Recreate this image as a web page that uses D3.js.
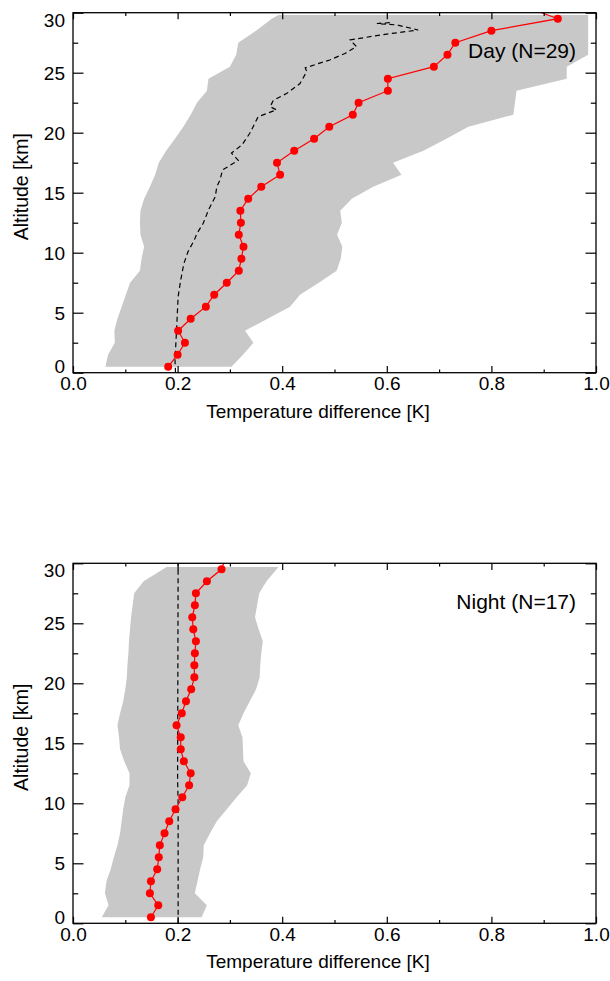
<!DOCTYPE html>
<html>
<head>
<meta charset="utf-8">
<script src="https://cdn.jsdelivr.net/npm/d3@7"></script>
<style>
body { margin: 0; background: #fff; }
svg { display: block; font-family: "Liberation Sans", Arial, Helvetica, sans-serif; }
</style>
</head>
<body>
<div id="graph"></div>
<script>
const width = 610;
const height = 981;
const marginLeft = 73;
const marginRight = 14;

// altitude levels of the profile points [km]
const levels = [0.5, 1.5, 2.5, 3.5, 4.5, 5.5, 6.5, 7.5, 8.5, 9.5, 10.5, 11.5, 12.5, 13.5, 14.5,
                15.5, 16.5, 17.5, 18.5, 19.5, 20.5, 21.5, 22.5, 23.5, 24.5, 25.5, 26.5, 27.5, 28.5, 29.5, 30.5];

// mean temperature difference [K]
const dayMean = [0.182, 0.200, 0.214, 0.201, 0.225, 0.254, 0.270, 0.294, 0.317, 0.322, 0.326, 0.317, 0.321, 0.320, 0.335,
                 0.360, 0.396, 0.390, 0.423, 0.461, 0.490, 0.535, 0.546, 0.602, 0.602, 0.690, 0.716, 0.731, 0.800, 0.927, 0.865];
const nightMean = [0.149, 0.163, 0.147, 0.149, 0.161, 0.164, 0.166, 0.175, 0.184, 0.196, 0.209, 0.222, 0.225, 0.212, 0.206,
                   0.206, 0.198, 0.208, 0.216, 0.226, 0.232, 0.232, 0.233, 0.235, 0.230, 0.228, 0.233, 0.235, 0.256, 0.284, 0.292];

// spread (grey band)
const dayBandAlt = [0.5, 1.5, 2.5, 3.5, 4.5, 5.5, 6.5, 7.5, 8.5, 9.5, 10.5, 11.5, 12.5, 13.5, 14.5,
                    15.5, 16.5, 17.5, 18.5, 19.5, 20.5, 21.5, 22.5, 23.5, 24.5, 25.5, 26.5, 27.5, 28.5, 29.5, 29.8];
const dayBandLow = [0.062, 0.067, 0.080, 0.079, 0.085, 0.093, 0.101, 0.109, 0.128, 0.131, 0.136, 0.129, 0.128, 0.129, 0.136,
                    0.147, 0.157, 0.164, 0.178, 0.195, 0.211, 0.225, 0.237, 0.256, 0.259, 0.300, 0.312, 0.316, 0.350, 0.380, 0.393];
const dayBandHigh = [0.303, 0.325, 0.345, 0.329, 0.372, 0.415, 0.434, 0.470, 0.504, 0.512, 0.515, 0.505, 0.514, 0.511, 0.533,
                     0.574, 0.628, 0.612, 0.670, 0.714, 0.756, 0.842, 0.845, 0.848, 0.944, 0.944, 0.985, 0.985, 0.985, 0.985, 0.985];

const nightBandAlt = [0.5, 1.5, 2.5, 3.5, 4.5, 5.5, 6.5, 7.5, 8.5, 9.5, 10.5, 11.5, 12.5, 13.5, 14.5,
                      15.5, 16.5, 17.5, 18.5, 19.5, 20.5, 21.5, 22.5, 23.5, 24.5, 25.5, 26.5, 27.5, 28.5, 29.7];
const nightBandLow = [0.055, 0.068, 0.061, 0.064, 0.072, 0.078, 0.085, 0.090, 0.093, 0.096, 0.100, 0.108, 0.108, 0.098, 0.090,
                      0.088, 0.085, 0.090, 0.096, 0.100, 0.103, 0.104, 0.106, 0.107, 0.109, 0.111, 0.114, 0.117, 0.135, 0.179];
const nightBandHigh = [0.246, 0.256, 0.233, 0.238, 0.243, 0.249, 0.250, 0.262, 0.275, 0.294, 0.313, 0.333, 0.340, 0.326, 0.325,
                       0.324, 0.316, 0.326, 0.338, 0.350, 0.357, 0.358, 0.360, 0.363, 0.355, 0.348, 0.352, 0.356, 0.370, 0.393];

// reference profile (dashed)
const dayRefAlt = [0, 1.06, 3.56, 6.33, 7.73, 9.1, 10.1, 11.06, 11.6, 12.45, 13.56, 14.67, 15.5, 16.06, 16.9, 17.7, 18.3,
                   18.98, 19.95, 21.33, 21.9, 22.17, 22.7, 23.28, 24.1, 25.1, 25.4, 25.9, 26.06, 26.6, 27.17, 27.73,
                   28.14, 28.56, 28.98, 29.1, 29.17];
const dayRefVal = [0.196, 0.195, 0.198, 0.201, 0.206, 0.212, 0.220, 0.232, 0.237, 0.249, 0.259, 0.272, 0.275, 0.281, 0.286, 0.316, 0.303,
                   0.323, 0.338, 0.354, 0.389, 0.377, 0.383, 0.409, 0.434, 0.447, 0.444, 0.479, 0.491, 0.520, 0.542, 0.530,
                   0.587, 0.660, 0.619, 0.581, 0.606];
const nightRefAlt = [0, 10, 12, 30];
const nightRefVal = [0.201, 0.201, 0.200, 0.201];

const xTicks = [0, 0.2, 0.4, 0.6, 0.8, 1.0];
const xMinorTicks = [0.1, 0.3, 0.5, 0.7, 0.9];
const yTicks = [0, 5, 10, 15, 20, 25, 30];
const yMinorTicks = [2.5, 7.5, 12.5, 17.5, 22.5, 27.5];

const panels = [
  {label: "Day (N=29)", top: 12.7, bottom: 372.7, mean: dayMean,
   bandAlt: dayBandAlt, bandLow: dayBandLow, bandHigh: dayBandHigh, refAlt: dayRefAlt, refVal: dayRefVal},
  {label: "Night (N=17)", top: 563.3, bottom: 923.3, mean: nightMean,
   bandAlt: nightBandAlt, bandLow: nightBandLow, bandHigh: nightBandHigh, refAlt: nightRefAlt, refVal: nightRefVal}
];

const xScale = d3.scaleLinear()
            .domain([0, 1])
            .range([marginLeft, width - marginRight])

const svg = d3.create("svg")
              .attr("width", width)
              .attr("height", height)
              .attr("viewBox", `0 0 ${width} ${height}`)

panels.forEach((p, i) => {
   const yScale = d3.scaleLinear()
               .domain([0, 30])
               .range([p.bottom, p.top])

   const g = svg.append("g")

   const clipId = `clip${i}`
   g.append("clipPath")
    .attr("id", clipId)
    .append("rect")
    .attr("x", xScale(0))
    .attr("y", p.top)
    .attr("width", xScale(1) - xScale(0))
    .attr("height", p.bottom - p.top)

   const plot = g.append("g").attr("clip-path", `url(#${clipId})`)

   const band = p.bandAlt.map((a, k) => ({alt: a, lo: p.bandLow[k], hi: p.bandHigh[k]}))
   plot.append("path")
       .datum(band)
       .attr("fill", "#c8c8c8")
       .attr("d", d3.area()
                    .y(d => yScale(d.alt))
                    .x0(d => xScale(d.lo))
                    .x1(d => xScale(d.hi)))

   const ref = p.refAlt.map((a, k) => [p.refVal[k], a])
   plot.append("path")
       .datum(ref)
       .attr("fill", "none")
       .attr("stroke", "#000")
       .attr("stroke-width", 1.2)
       .attr("stroke-dasharray", "5,3.5")
       .attr("d", d3.line().x(d => xScale(d[0])).y(d => yScale(d[1])))

   const mean = levels.map((a, k) => [p.mean[k], a])
   plot.append("path")
       .datum(mean)
       .attr("fill", "none")
       .attr("stroke", "#ff0000")
       .attr("stroke-width", 1.2)
       .attr("d", d3.line().x(d => xScale(d[0])).y(d => yScale(d[1])))

   plot.selectAll("circle")
       .data(mean)
       .enter()
       .append("circle")
       .attr("cx", d => xScale(d[0]))
       .attr("cy", d => yScale(d[1]))
       .attr("r", 4)
       .attr("fill", "#ff0000")

   // axes, IDL style: ticks pointing inward on all four sides
   const axes = g.append("g")

   axes.append("g")
       .attr("transform", `translate(0, ${p.bottom})`)
       .call(d3.axisBottom(xScale).tickValues(xTicks).tickSize(-6.6).tickSizeOuter(0)
                .tickPadding(4).tickFormat(d3.format(".1f")))
   axes.append("g")
       .attr("transform", `translate(0, ${p.bottom})`)
       .call(d3.axisBottom(xScale).tickValues(xMinorTicks).tickSize(-3.3).tickSizeOuter(0).tickFormat(""))
   axes.append("g")
       .attr("transform", `translate(0, ${p.top})`)
       .call(d3.axisTop(xScale).tickValues(xTicks).tickSize(-6.6).tickSizeOuter(0).tickFormat(""))
   axes.append("g")
       .attr("transform", `translate(0, ${p.top})`)
       .call(d3.axisTop(xScale).tickValues(xMinorTicks).tickSize(-3.3).tickSizeOuter(0).tickFormat(""))

   const yAxis = axes.append("g")
       .attr("transform", `translate(${xScale(0)}, 0)`)
       .call(d3.axisLeft(yScale).tickValues(yTicks).tickSize(-10.5).tickSizeOuter(0).tickPadding(8))
   // end labels sit inside the axis range
   yAxis.selectAll(".tick text")
        .attr("dy", d => d === 30 ? "0.7em" : d === 0 ? "0em" : "0.34em")
   axes.append("g")
       .attr("transform", `translate(${xScale(0)}, 0)`)
       .call(d3.axisLeft(yScale).tickValues(yMinorTicks).tickSize(-5.2).tickSizeOuter(0).tickFormat(""))
   axes.append("g")
       .attr("transform", `translate(${xScale(1)}, 0)`)
       .call(d3.axisRight(yScale).tickValues(yTicks).tickSize(-10.5).tickSizeOuter(0).tickFormat(""))
   axes.append("g")
       .attr("transform", `translate(${xScale(1)}, 0)`)
       .call(d3.axisRight(yScale).tickValues(yMinorTicks).tickSize(-5.2).tickSizeOuter(0).tickFormat(""))

   axes.selectAll(".domain").remove()
   axes.selectAll("g")
       .attr("font-size", 19)
       .attr("font-family", null)
   axes.selectAll(".tick line").attr("stroke", "#000").attr("stroke-width", 1.2)
   axes.selectAll(".tick text").attr("fill", "#000")

   g.append("rect")
    .attr("x", xScale(0))
    .attr("y", p.top)
    .attr("width", xScale(1) - xScale(0))
    .attr("height", p.bottom - p.top)
    .attr("fill", "none")
    .attr("stroke", "#000")
    .attr("stroke-width", 1.3)

   g.append("text")
    .attr("x", 318)
    .attr("y", p.bottom + 45)
    .attr("text-anchor", "middle")
    .attr("font-size", 19)
    .text("Temperature difference [K]")

   g.append("text")
    .attr("transform", "rotate(270)")
    .attr("x", -((p.top + p.bottom) / 2 - 6))
    .attr("y", 28)
    .attr("text-anchor", "middle")
    .attr("font-size", 19.5)
    .text("Altitude [km]")

   g.append("text")
    .attr("x", 576)
    .attr("y", p.top + 45.6)
    .attr("text-anchor", "end")
    .attr("font-size", 21)
    .text(p.label)
})

graph.append(svg.node());
</script>
</body>
</html>
